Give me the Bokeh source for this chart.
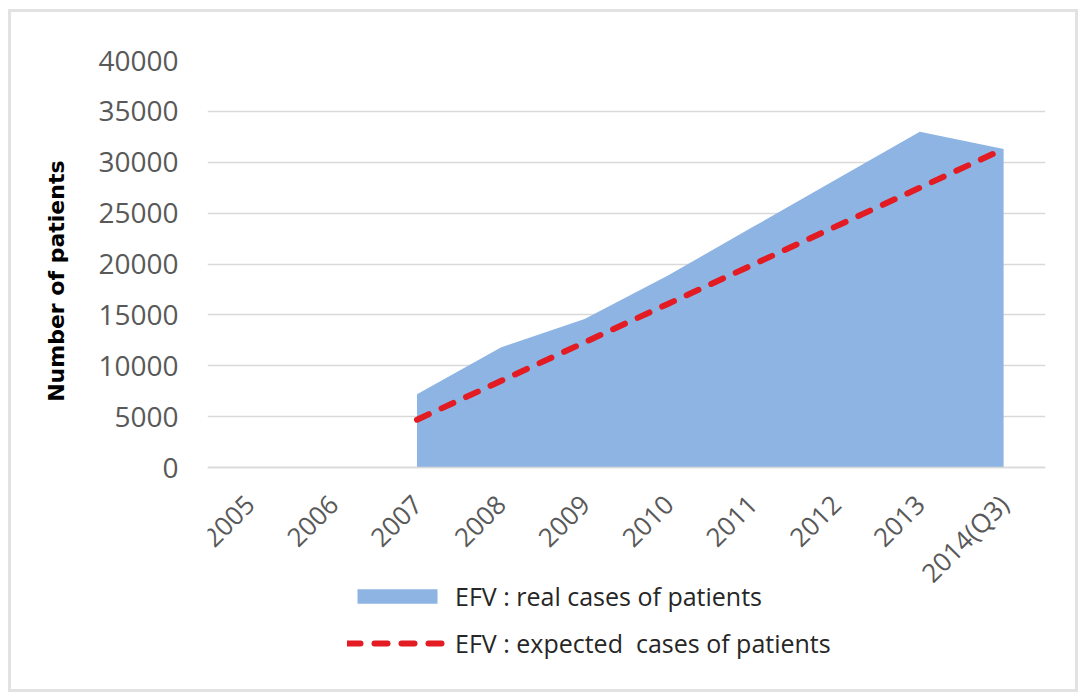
import math
from bokeh.plotting import figure
from bokeh.models import Legend, LegendItem, FactorRange, Title
from bokeh.embed import file_html
from bokeh.resources import INLINE

years = ["2005", "2006", "2007", "2008", "2009", "2010", "2011", "2012", "2013", "2014(Q3)"]
area_years = ["2007", "2008", "2009", "2010", "2011", "2012", "2013", "2014(Q3)"]
real_cases = [7200, 11800, 14600, 18900, 23600, 28300, 33000, 31300]
expected_cases = [4700, 8500, 12300, 16100, 19900, 23700, 27500, 31300]
y_ticks = [0, 5000, 10000, 15000, 20000, 25000, 30000, 35000, 40000]

FONT = "Open Sans"

# frame: top (40000) at 407 px above the zero line; extra room below for axis labels and legend
PX_DATA = 407
PX_BELOW = 218
y_min = -max(y_ticks) * PX_BELOW / PX_DATA

p = figure(x_range=FactorRange(*years, range_padding=0), y_range=(y_min, max(y_ticks)),
           frame_width=838, frame_height=PX_DATA + PX_BELOW,
           min_border_left=196, min_border_right=30, min_border_top=48, min_border_bottom=4,
           output_backend="svg", toolbar_location=None,
           styles={"border": "3px solid #e2e2e2", "margin": "9px 0 0 8px"})
p.outline_line_color = None
p.background_fill_color = "white"
p.border_fill_color = "white"

area = p.varea(x=area_years, y1=[0] * len(area_years), y2=real_cases, fill_color="#8eb4e3")
line = p.line(x=area_years, y=expected_cases, line_color="#e31b23", line_width=6,
              line_dash="13 14", line_cap="round")

p.xgrid.grid_line_color = None
p.ygrid.grid_line_color = "#d9d9d9"
p.ygrid.grid_line_width = 1.5

p.yaxis.ticker = y_ticks
p.yaxis.axis_line_color = None
p.yaxis.major_tick_line_color = None
p.yaxis.major_tick_out = 0
p.yaxis.major_tick_in = 0
p.yaxis.minor_tick_line_color = None
p.yaxis.major_label_standoff = 29
p.yaxis.major_label_text_font = FONT
p.yaxis.major_label_text_font_size = "28px"
p.yaxis.major_label_text_color = "#595959"

ytitle = Title(text="Number of patients", align="right", offset=100,
               text_font="DejaVu Sans", text_font_style="bold", text_font_size="22px",
               text_color="black", standoff=50, vertical_align="top")
p.add_layout(ytitle, "left")

p.xaxis.fixed_location = 0
p.xaxis.axis_line_color = "#d9d9d9"
p.xaxis.axis_line_width = 1.5
p.xaxis.major_tick_line_color = None
p.xaxis.major_tick_out = 0
p.xaxis.major_tick_in = 0
p.xaxis.minor_tick_line_color = None
p.xaxis.major_label_orientation = math.pi / 4
p.xaxis.major_label_standoff = 32
p.xaxis.major_label_text_font = FONT
p.xaxis.major_label_text_font_size = "26px"
p.xaxis.major_label_text_color = "#595959"

legend = Legend(items=[
    LegendItem(label="EFV : real cases of patients", renderers=[area]),
    LegendItem(label="EFV : expected  cases of patients", renderers=[line]),
], location=(140, 25))
legend.glyph_width = 100
legend.glyph_height = 18
legend.label_height = 34
legend.spacing = 13
legend.padding = 0
legend.margin = 0
legend.label_standoff = 8
legend.border_line_color = None
legend.background_fill_alpha = 0
legend.label_text_font = FONT
legend.label_text_font_size = "25px"
legend.label_text_color = "#262626"
p.add_layout(legend, "center")

open("out.html", "w").write(file_html(p, INLINE))
